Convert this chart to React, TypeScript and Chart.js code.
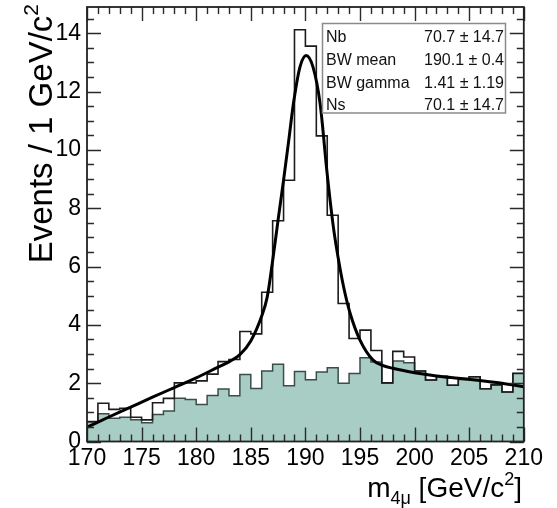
import { useEffect, useRef } from 'react';
import { Chart, registerables } from 'chart.js';

Chart.register(...registerables);

// ---- data ----
const binLowEdges = [170, 171, 172, 173, 174, 175, 176, 177, 178, 179, 180, 181, 182, 183, 184, 185, 186, 187, 188, 189, 190, 191, 192, 193, 194, 195, 196, 197, 198, 199, 200, 201, 202, 203, 204, 205, 206, 207, 208, 209];
const binUpperLimit = 210;

const totalCounts = [0.68, 1.31, 1.10, 1.14, 0.83, 0.74, 1.33, 1.48, 2.01, 2.01, 2.08, 2.31, 2.74, 2.81, 3.77, 3.69, 5.12, 7.57, 8.96, 14.12, 13.56, 10.48, 7.76, 4.73, 3.53, 3.82, 3.12, 2.01, 3.09, 2.90, 2.42, 2.11, 2.24, 1.93, 2.16, 2.22, 1.81, 1.95, 1.70, 2.33];
const backgroundCounts = [0.68, 0.95, 0.80, 0.83, 0.75, 0.64, 0.93, 1.05, 1.48, 1.44, 1.27, 1.58, 1.80, 1.57, 2.30, 1.82, 2.42, 2.65, 1.91, 2.40, 2.12, 2.38, 2.53, 2.00, 2.33, 2.87, 2.73, 2.01, 2.76, 2.70, 2.42, 2.11, 2.22, 1.93, 2.13, 2.22, 1.81, 1.93, 1.70, 2.34];

const fitMass = [170, 172, 174, 176, 178, 180, 182, 183, 184, 185, 186, 186.5, 187, 187.5, 188, 188.5, 188.9, 189.5, 190.07, 190.7, 191.35, 191.96, 192.56, 193, 193.5, 194.1, 195, 196.2, 197, 198, 200, 202, 204, 206, 208, 210];
const fitValue = [0.49, 0.84, 1.18, 1.52, 1.85, 2.18, 2.55, 2.73, 2.98, 3.45, 4.3, 4.95, 6.2, 7.6, 8.96, 10.4, 11.58, 12.84, 13.24, 12.84, 11.58, 9.30, 7.36, 6.3, 5.30, 4.39, 3.48, 2.79, 2.62, 2.51, 2.36, 2.25, 2.17, 2.09, 2.00, 1.88];

const xTickValues = [170, 175, 180, 185, 190, 195, 200, 205, 210];
const yTickValues = [0, 2, 4, 6, 8, 10, 12, 14];

const fitParamNames = ['Nb', 'BW mean', 'BW gamma', 'Ns'];
const fitParamValues = ['70.7 \u00b1 14.7', '190.1 \u00b1 0.4', '1.41 \u00b1 1.19', '70.1 \u00b1 14.7'];

const X_MIN = 170;
const X_MAX = 210;
const Y_MAX = 14.9;

const FONT = '"Liberation Sans", Arial, Helvetica, sans-serif';

function stepPoints(values: number[]) {
  const pts = binLowEdges.map((e, i) => ({ x: e, y: values[i] }));
  pts.push({ x: binUpperLimit, y: values[values.length - 1] });
  return pts;
}

const decorPlugin = {
  id: 'decor',
  afterDraw(chart: any) {
    const ctx = chart.ctx as CanvasRenderingContext2D;
    const { left, right, top, bottom } = chart.chartArea;
    const xs = chart.scales.x;
    const ys = chart.scales.y;
    ctx.save();

    // tick marks (inward, all four sides)
    ctx.strokeStyle = '#2a2a2a';
    ctx.lineWidth = 1.4;
    ctx.beginPath();
    for (let v = X_MIN; v <= X_MAX; v += 1) {
      const px = Math.round(xs.getPixelForValue(v)) + 0.5;
      const len = v % 5 === 0 ? 14 : 7;
      ctx.moveTo(px, bottom);
      ctx.lineTo(px, bottom - len);
      ctx.moveTo(px, top);
      ctx.lineTo(px, top + len);
    }
    for (let k = 0; k * 0.5 <= Y_MAX; k++) {
      const v = k * 0.5;
      const py = Math.round(ys.getPixelForValue(v)) + 0.5;
      const len = k % 4 === 0 ? 14 : 7;
      ctx.moveTo(left, py);
      ctx.lineTo(left + len, py);
      ctx.moveTo(right, py);
      ctx.lineTo(right - len, py);
    }
    ctx.stroke();

    // frame
    ctx.lineWidth = 1.8;
    ctx.strokeStyle = '#222';
    ctx.strokeRect(left, top, right - left, bottom - top);

    // parameter box
    const bx0 = 322.5, bx1 = 505.5, by0 = 23.5, by1 = 113;
    ctx.fillStyle = '#fff';
    ctx.fillRect(bx0, by0, bx1 - bx0, by1 - by0);
    ctx.strokeStyle = '#8a8a8a';
    ctx.lineWidth = 1.5;
    ctx.strokeRect(bx0, by0, bx1 - bx0, by1 - by0);
    ctx.fillStyle = '#111';
    ctx.font = `16px ${FONT}`;
    ctx.textBaseline = 'alphabetic';
    const rowBase = [41.5, 64.5, 87.5, 110];
    fitParamNames.forEach((n, i) => {
      ctx.textAlign = 'left';
      ctx.fillText(n, 326, rowBase[i]);
      ctx.textAlign = 'right';
      ctx.fillText(fitParamValues[i], 504, rowBase[i]);
    });

    // y title (rotated, aligned to top)
    ctx.fillStyle = '#000';
    const mainY = 'Events / 1 GeV/c';
    ctx.save();
    ctx.translate(52, 4);
    ctx.rotate(-Math.PI / 2);
    ctx.textAlign = 'left';
    ctx.font = `33px ${FONT}`;
    const wMainY = ctx.measureText(mainY).width;
    ctx.font = `21px ${FONT}`;
    const wSupY = ctx.measureText('2').width;
    const startY = -(wMainY + wSupY);
    ctx.font = `33px ${FONT}`;
    ctx.fillText(mainY, startY, 0);
    ctx.font = `21px ${FONT}`;
    ctx.fillText('2', startY + wMainY, -14);
    ctx.restore();

    // x title with subscript / superscript
    const parts = [
      { t: 'm', size: 28, dy: 0 },
      { t: '4\u03bc', size: 18, dy: 7 },
      { t: ' [GeV/c', size: 28, dy: 0 },
      { t: '2', size: 18, dy: -12 },
      { t: ']', size: 28, dy: 0 },
    ];
    let total = 0;
    const widths = parts.map((p) => {
      ctx.font = `${p.size}px ${FONT}`;
      const w = ctx.measureText(p.t).width;
      total += w;
      return w;
    });
    let cx = 522 - total;
    const baseX = 497;
    ctx.textAlign = 'left';
    parts.forEach((p, i) => {
      ctx.font = `${p.size}px ${FONT}`;
      ctx.fillText(p.t, cx, baseX + p.dy);
      cx += widths[i];
    });

    ctx.restore();
  },
};

export default function App() {
  const canvasRef = useRef<HTMLCanvasElement | null>(null);

  useEffect(() => {
    if (!canvasRef.current) return;
    const chart = new Chart(canvasRef.current, {
      type: 'line',
      data: {
        datasets: [
          {
            label: 'fit',
            data: fitMass.map((m, i) => ({ x: m, y: fitValue[i] })),
            borderColor: '#000',
            borderWidth: 3,
            pointRadius: 0,
            fill: false,
            cubicInterpolationMode: 'monotone',
            order: 0,
          },
          {
            label: 'total',
            data: stepPoints(totalCounts),
            borderColor: '#1c1c1c',
            borderWidth: 1.6,
            pointRadius: 0,
            fill: false,
            stepped: 'before',
            order: 1,
          },
          {
            label: 'background',
            data: stepPoints(backgroundCounts),
            borderColor: '#3b4d48',
            backgroundColor: 'rgb(168, 205, 196)',
            borderWidth: 1.5,
            pointRadius: 0,
            fill: 'origin',
            stepped: 'before',
            order: 2,
          },
        ],
      } as any,
      options: {
        animation: false,
        responsive: true,
        maintainAspectRatio: false,
        layout: { padding: { left: 7, right: 33.2, top: 7, bottom: 26.5 } },
        plugins: { legend: { display: false }, tooltip: { enabled: false } },
        scales: {
          x: {
            type: 'linear',
            min: X_MIN,
            max: X_MAX,
            grid: { display: false, drawTicks: false, tickLength: 0 },
            border: { display: false },
            ticks: {
              color: '#000',
              font: { family: FONT, size: 23 },
              padding: 3,
              autoSkip: false,
              maxRotation: 0,
              minRotation: 0,
            },
            afterBuildTicks: (s: any) => {
              s.ticks = xTickValues.map((v) => ({ value: v }));
            },
            afterFit: (s: any) => {
              s.height = 40;
              s.paddingLeft = 0;
              s.paddingRight = 0;
              s.paddingTop = 0;
              s.paddingBottom = 0;
            },
          },
          y: {
            type: 'linear',
            min: 0,
            max: Y_MAX,
            grid: { display: false, drawTicks: false, tickLength: 0 },
            border: { display: false },
            ticks: {
              color: '#000',
              font: { family: FONT, size: 23 },
              padding: 6,
              autoSkip: false,
            },
            afterBuildTicks: (s: any) => {
              s.ticks = yTickValues.map((v) => ({ value: v }));
            },
            afterFit: (s: any) => {
              s.width = 80;
              s.paddingLeft = 0;
              s.paddingRight = 0;
              s.paddingTop = 0;
              s.paddingBottom = 0;
            },
          },
        },
      } as any,
      plugins: [decorPlugin],
    });
    return () => chart.destroy();
  }, []);

  return (
    <div style={{ position: 'absolute', left: 0, top: 0, width: 557, height: 508, background: '#fff' }}>
      <canvas ref={canvasRef} />
    </div>
  );
}
